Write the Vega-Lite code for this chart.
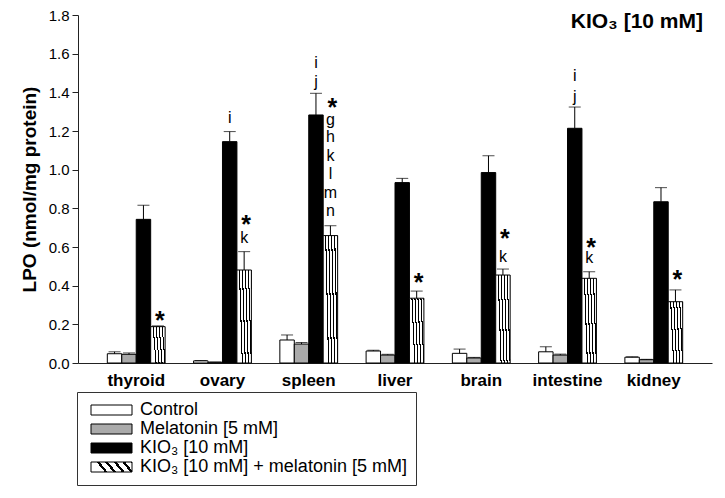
{
  "$schema": "https://vega.github.io/schema/vega-lite/v6.json",
  "width": 634,
  "height": 348,
  "autosize": {"type": "none"},
  "padding": {"left": 78, "top": 15, "right": 13, "bottom": 135},
  "background": "white",
  "config": {
    "view": {"stroke": null},
    "font": "Liberation Sans",
    "axis": {"labelFont": "Liberation Sans", "titleFont": "Liberation Sans", "labelColor": "black", "titleColor": "black", "domainColor": "#222", "tickColor": "#222", "grid": false},
    "axisY": {"tickSize": 6, "labelFontSize": 15, "labelPadding": 3, "titleFontSize": 19, "titleFontWeight": "bold", "titlePadding": 9, "format": ".1f", "labelOverlap": false},
    "axisX": {"labelAngle": 0, "ticks": false, "tickSize": 0, "labelFontSize": 17, "labelFontWeight": "bold", "labelPadding": 9}
  },
  "title": {
    "text": "KIO₃ [10 mM]",
    "anchor": "end",
    "frame": "group",
    "orient": "top",
    "fontSize": 21,
    "fontWeight": "bold",
    "font": "Liberation Sans",
    "color": "black",
    "offset": -24,
    "dx": -9
  },
  "datasets": {
    "bars": [
      {"organ": "thyroid", "group": "Control", "value": 0.048, "upper": 0.058},
      {"organ": "thyroid", "group": "Melatonin [5 mM]", "value": 0.045, "upper": 0.052},
      {"organ": "thyroid", "group": "KIO₃ [10 mM]", "value": 0.743, "upper": 0.816},
      {"organ": "thyroid", "group": "KIO₃ [10 mM] + melatonin [5 mM]", "value": 0.188, "upper": 0.192},
      {"organ": "ovary", "group": "Control", "value": 0.011, "upper": 0.013},
      {"organ": "ovary", "group": "Melatonin [5 mM]", "value": 0.004, "upper": 0.005},
      {"organ": "ovary", "group": "KIO₃ [10 mM]", "value": 1.145, "upper": 1.197},
      {"organ": "ovary", "group": "KIO₃ [10 mM] + melatonin [5 mM]", "value": 0.481, "upper": 0.576},
      {"organ": "spleen", "group": "Control", "value": 0.119, "upper": 0.145},
      {"organ": "spleen", "group": "Melatonin [5 mM]", "value": 0.098, "upper": 0.106},
      {"organ": "spleen", "group": "KIO₃ [10 mM]", "value": 1.283, "upper": 1.395},
      {"organ": "spleen", "group": "KIO₃ [10 mM] + melatonin [5 mM]", "value": 0.659, "upper": 0.71},
      {"organ": "liver", "group": "Control", "value": 0.062, "upper": 0.066},
      {"organ": "liver", "group": "Melatonin [5 mM]", "value": 0.041, "upper": 0.045},
      {"organ": "liver", "group": "KIO₃ [10 mM]", "value": 0.933, "upper": 0.955},
      {"organ": "liver", "group": "KIO₃ [10 mM] + melatonin [5 mM]", "value": 0.335, "upper": 0.372},
      {"organ": "brain", "group": "Control", "value": 0.05, "upper": 0.072},
      {"organ": "brain", "group": "Melatonin [5 mM]", "value": 0.026, "upper": 0.029},
      {"organ": "brain", "group": "KIO₃ [10 mM]", "value": 0.985, "upper": 1.072},
      {"organ": "brain", "group": "KIO₃ [10 mM] + melatonin [5 mM]", "value": 0.455, "upper": 0.486},
      {"organ": "intestine", "group": "Control", "value": 0.058, "upper": 0.084},
      {"organ": "intestine", "group": "Melatonin [5 mM]", "value": 0.041, "upper": 0.046},
      {"organ": "intestine", "group": "KIO₃ [10 mM]", "value": 1.214, "upper": 1.324},
      {"organ": "intestine", "group": "KIO₃ [10 mM] + melatonin [5 mM]", "value": 0.438, "upper": 0.472},
      {"organ": "kidney", "group": "Control", "value": 0.03, "upper": 0.032},
      {"organ": "kidney", "group": "Melatonin [5 mM]", "value": 0.017, "upper": 0.019},
      {"organ": "kidney", "group": "KIO₃ [10 mM]", "value": 0.834, "upper": 0.907},
      {"organ": "kidney", "group": "KIO₃ [10 mM] + melatonin [5 mM]", "value": 0.317, "upper": 0.378}
    ],
    "notes": [
      {"organ": "thyroid", "group": "KIO₃ [10 mM] + melatonin [5 mM]", "label": "*", "kind": "star", "pos": 0.25},
      {"organ": "ovary", "group": "KIO₃ [10 mM]", "label": "i", "kind": "letter", "pos": 1.266},
      {"organ": "ovary", "group": "KIO₃ [10 mM] + melatonin [5 mM]", "label": "*", "kind": "star", "pos": 0.743},
      {"organ": "ovary", "group": "KIO₃ [10 mM] + melatonin [5 mM]", "label": "k", "kind": "letter", "pos": 0.645},
      {"organ": "spleen", "group": "KIO₃ [10 mM]", "label": "i", "kind": "letter", "pos": 1.55},
      {"organ": "spleen", "group": "KIO₃ [10 mM]", "label": "j", "kind": "letter", "pos": 1.455},
      {"organ": "spleen", "group": "KIO₃ [10 mM] + melatonin [5 mM]", "label": "*", "kind": "star", "pos": 1.352},
      {"organ": "spleen", "group": "KIO₃ [10 mM] + melatonin [5 mM]", "label": "g", "kind": "letter", "pos": 1.257},
      {"organ": "spleen", "group": "KIO₃ [10 mM] + melatonin [5 mM]", "label": "h", "kind": "letter", "pos": 1.168},
      {"organ": "spleen", "group": "KIO₃ [10 mM] + melatonin [5 mM]", "label": "k", "kind": "letter", "pos": 1.071},
      {"organ": "spleen", "group": "KIO₃ [10 mM] + melatonin [5 mM]", "label": "l", "kind": "letter", "pos": 0.978},
      {"organ": "spleen", "group": "KIO₃ [10 mM] + melatonin [5 mM]", "label": "m", "kind": "letter", "pos": 0.881},
      {"organ": "spleen", "group": "KIO₃ [10 mM] + melatonin [5 mM]", "label": "n", "kind": "letter", "pos": 0.788},
      {"organ": "liver", "group": "KIO₃ [10 mM] + melatonin [5 mM]", "label": "*", "kind": "star", "pos": 0.447},
      {"organ": "brain", "group": "KIO₃ [10 mM] + melatonin [5 mM]", "label": "*", "kind": "star", "pos": 0.67},
      {"organ": "brain", "group": "KIO₃ [10 mM] + melatonin [5 mM]", "label": "k", "kind": "letter", "pos": 0.55},
      {"organ": "intestine", "group": "KIO₃ [10 mM]", "label": "i", "kind": "letter", "pos": 1.485},
      {"organ": "intestine", "group": "KIO₃ [10 mM]", "label": "j", "kind": "letter", "pos": 1.378},
      {"organ": "intestine", "group": "KIO₃ [10 mM] + melatonin [5 mM]", "label": "*", "kind": "star", "pos": 0.628},
      {"organ": "intestine", "group": "KIO₃ [10 mM] + melatonin [5 mM]", "label": "k", "kind": "letter", "pos": 0.545},
      {"organ": "kidney", "group": "KIO₃ [10 mM] + melatonin [5 mM]", "label": "*", "kind": "star", "pos": 0.46}
    ]
  },
  "layer": [
    {
      "data": {"name": "bars"},
      "mark": {"type": "bar", "stroke": "black", "strokeWidth": 1},
      "encoding": {
        "x": {"field": "organ", "type": "nominal", "sort": ["thyroid", "ovary", "spleen", "liver", "brain", "intestine", "kidney"], "scale": {"paddingInner": 0.33, "paddingOuter": 0.34}, "title": null},
        "xOffset": {"field": "group", "type": "nominal", "sort": ["Control", "Melatonin [5 mM]", "KIO₃ [10 mM]", "KIO₃ [10 mM] + melatonin [5 mM]"]},
        "y": {"field": "value", "type": "quantitative", "scale": {"domain": [0, 1.8], "nice": false, "zero": true}, "title": "LPO (nmol/mg protein)",
          "axis": {"values": [0, 0.2, 0.4, 0.6, 0.8, 1.0, 1.2, 1.4, 1.6, 1.8]}},
        "color": {"field": "group", "type": "nominal", "sort": ["Control", "Melatonin [5 mM]", "KIO₃ [10 mM]", "KIO₃ [10 mM] + melatonin [5 mM]"],
          "scale": {"domain": ["Control", "Melatonin [5 mM]", "KIO₃ [10 mM]", "KIO₃ [10 mM] + melatonin [5 mM]"],
            "range": ["white", "#aaaaaa", "black",
              {"expr": "{gradient: 'linear', x1: 0, y1: 0, x2: 1, y2: -0.2, stops: [{offset: 0, color: 'white'}, {offset: 0.13, color: 'white'}, {offset: 0.13, color: 'black'}, {offset: 0.2, color: 'black'}, {offset: 0.2, color: 'white'}, {offset: 0.33, color: 'white'}, {offset: 0.33, color: 'black'}, {offset: 0.4, color: 'black'}, {offset: 0.4, color: 'white'}, {offset: 0.53, color: 'white'}, {offset: 0.53, color: 'black'}, {offset: 0.6, color: 'black'}, {offset: 0.6, color: 'white'}, {offset: 0.73, color: 'white'}, {offset: 0.73, color: 'black'}, {offset: 0.8, color: 'black'}, {offset: 0.8, color: 'white'}, {offset: 0.93, color: 'white'}, {offset: 0.93, color: 'black'}, {offset: 1, color: 'black'}]}"}]},
          "legend": {"title": null, "orient": "none", "legendX": -1, "legendY": 377, "direction": "vertical", "padding": 9, "strokeColor": "#333",
            "symbolType": "M-1,-0.625H4.125V0.625H-1Z", "symbolSize": 256, "symbolStrokeColor": "black", "symbolStrokeWidth": 1, "symbolOffset": 4,
            "labelFontSize": 18, "labelOffset": 32, "labelColor": "black", "labelFont": "Liberation Sans", "labelLimit": 400, "rowPadding": 1,
            "encode": {"symbols": {"update": {"stroke": {"value": "black"}, "strokeWidth": {"value": 1}}}}}
        }
      }
    },
    {
      "data": {"name": "bars"},
      "mark": {"type": "rule", "color": "black", "strokeWidth": 1},
      "encoding": {
        "x": {"field": "organ", "type": "nominal", "sort": ["thyroid", "ovary", "spleen", "liver", "brain", "intestine", "kidney"], "title": null},
        "xOffset": {"field": "group", "type": "nominal", "sort": ["Control", "Melatonin [5 mM]", "KIO₃ [10 mM]", "KIO₃ [10 mM] + melatonin [5 mM]"]},
        "y": {"field": "value", "type": "quantitative", "scale": {"domain": [0, 1.8]}, "title": "LPO (nmol/mg protein)", "axis": {"values": [0, 0.2, 0.4, 0.6, 0.8, 1.0, 1.2, 1.4, 1.6, 1.8]}},
        "y2": {"field": "upper"}
      }
    },
    {
      "data": {"name": "bars"},
      "mark": {"type": "tick", "color": "black", "thickness": 1, "size": 12},
      "encoding": {
        "x": {"field": "organ", "type": "nominal", "sort": ["thyroid", "ovary", "spleen", "liver", "brain", "intestine", "kidney"], "title": null},
        "xOffset": {"field": "group", "type": "nominal", "sort": ["Control", "Melatonin [5 mM]", "KIO₃ [10 mM]", "KIO₃ [10 mM] + melatonin [5 mM]"]},
        "y": {"field": "upper", "type": "quantitative", "scale": {"domain": [0, 1.8]}, "title": "LPO (nmol/mg protein)", "axis": {"values": [0, 0.2, 0.4, 0.6, 0.8, 1.0, 1.2, 1.4, 1.6, 1.8]}}
      }
    },
    {
      "data": {"name": "notes"},
      "transform": [{"filter": "datum.kind === 'letter'"}],
      "mark": {"type": "text", "fontSize": 16, "color": "black", "baseline": "middle", "font": "Liberation Sans"},
      "encoding": {
        "x": {"field": "organ", "type": "nominal", "sort": ["thyroid", "ovary", "spleen", "liver", "brain", "intestine", "kidney"], "title": null},
        "xOffset": {"field": "group", "type": "nominal", "sort": ["Control", "Melatonin [5 mM]", "KIO₃ [10 mM]", "KIO₃ [10 mM] + melatonin [5 mM]"]},
        "y": {"field": "pos", "type": "quantitative", "scale": {"domain": [0, 1.8]}, "title": "LPO (nmol/mg protein)", "axis": {"values": [0, 0.2, 0.4, 0.6, 0.8, 1.0, 1.2, 1.4, 1.6, 1.8]}},
        "text": {"field": "label"}
      }
    },
    {
      "data": {"name": "notes"},
      "transform": [{"filter": "datum.kind === 'star'"}],
      "mark": {"type": "text", "fontSize": 25, "fontWeight": "bold", "color": "black", "baseline": "middle", "dy": 6, "dx": 2, "font": "Liberation Sans"},
      "encoding": {
        "x": {"field": "organ", "type": "nominal", "sort": ["thyroid", "ovary", "spleen", "liver", "brain", "intestine", "kidney"], "title": null},
        "xOffset": {"field": "group", "type": "nominal", "sort": ["Control", "Melatonin [5 mM]", "KIO₃ [10 mM]", "KIO₃ [10 mM] + melatonin [5 mM]"]},
        "y": {"field": "pos", "type": "quantitative", "scale": {"domain": [0, 1.8]}, "title": "LPO (nmol/mg protein)", "axis": {"values": [0, 0.2, 0.4, 0.6, 0.8, 1.0, 1.2, 1.4, 1.6, 1.8]}},
        "text": {"field": "label"}
      }
    }
  ]
}
